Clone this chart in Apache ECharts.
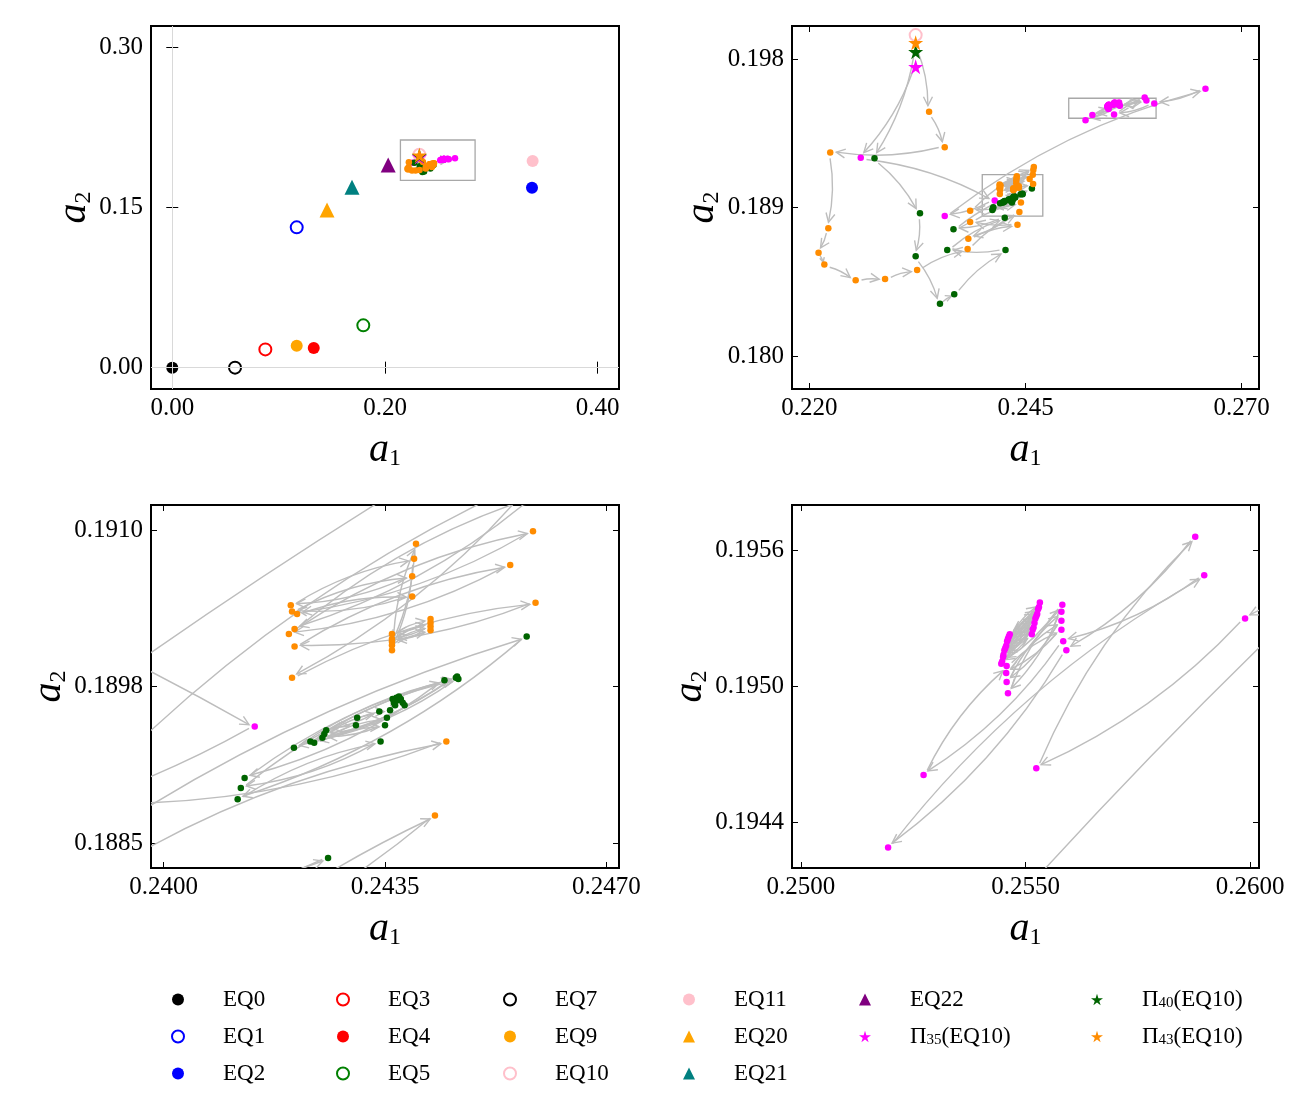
<!DOCTYPE html>
<html><head><meta charset="utf-8">
<script src="https://cdn.jsdelivr.net/npm/echarts@6/dist/echarts.min.js"></script>
<style>html,body{margin:0;padding:0;background:#fff}#c{width:1313px;height:1094px}</style>
</head><body><div id="c"></div>
<script>
// ---------------- DATA ----------------
const eqNames = ['EQ0','EQ1','EQ2','EQ3','EQ4','EQ5','EQ7','EQ9','EQ10','EQ11','EQ20','EQ21','EQ22'];
const eqA1 = [0.0, 0.117, 0.3382, 0.0875, 0.133, 0.1796, 0.059, 0.117, 0.2323, 0.3388, 0.1455, 0.169, 0.203];
const eqA2 = [0.0, 0.1314, 0.1686, 0.0171, 0.0184, 0.0396, 0.0, 0.0206, 0.19945, 0.1935, 0.1476, 0.169, 0.1898];

// Pi_35(EQ10) orbit: first entry is the star, then the iterates
const pi35A1 = [0.2323, 0.22595, 0.24144, 0.23566, 0.26581, 0.25989, 0.25524, 0.25878, 0.25591, 0.25194,
  0.25898, 0.25584, 0.25273, 0.25458, 0.25580, 0.25457, 0.25580, 0.25458, 0.25580, 0.25461, 0.25582,
  0.25446, 0.25514, 0.25448, 0.25516, 0.25450, 0.25518, 0.25451, 0.25520, 0.25453, 0.25522,
  0.25455, 0.25524, 0.25457, 0.25526, 0.25459, 0.25528, 0.25461, 0.25530, 0.25463, 0.25532, 0.25465];
const pi35A2 = [0.19753, 0.19202, 0.18943, 0.18848, 0.19620, 0.19530, 0.19464, 0.19566, 0.19516, 0.19429,
  0.19549, 0.19520, 0.19461, 0.19509, 0.19525, 0.19506, 0.19529, 0.19502, 0.19533, 0.19497, 0.19536,
  0.19510, 0.19523, 0.19511, 0.19525, 0.19513, 0.19526, 0.19514, 0.19528, 0.19516, 0.19530,
  0.19517, 0.19531, 0.19518, 0.19532, 0.19520, 0.19534, 0.19521, 0.19535, 0.19522, 0.19537, 0.19523];

// Pi_40(EQ10)
const pi40A1 = [0.2323, 0.22754, 0.23280, 0.23230, 0.23511, 0.23676, 0.24269, 0.23595, 0.24260, 0.23667,
  0.24574, 0.24117, 0.24343, 0.24122, 0.24444, 0.24128, 0.24464, 0.24206, 0.24462, 0.24232, 0.24466,
  0.24238, 0.24350, 0.24251, 0.24353, 0.24254, 0.24341, 0.24257, 0.24304, 0.24306, 0.24358, 0.24364,
  0.24368, 0.24372, 0.24375, 0.24378, 0.24381, 0.24362, 0.24370, 0.24366];
const pi40A2 = [0.19844, 0.19198, 0.18865, 0.18604, 0.18317, 0.18374, 0.18642, 0.18642, 0.18838, 0.18768,
  0.19015, 0.18885, 0.18931, 0.18894, 0.18980, 0.18902, 0.18983, 0.18926, 0.18982, 0.18931, 0.18981,
  0.18930, 0.18944, 0.18934, 0.18950, 0.18937, 0.18955, 0.18940, 0.18944, 0.18950, 0.18956, 0.18962,
  0.18966, 0.18967, 0.18965, 0.18962, 0.18960, 0.18965, 0.18964, 0.18960];

// Pi_43(EQ10)
const pi43A1 = [0.2323, 0.23385, 0.23566, 0.22242, 0.22220, 0.22107, 0.22174, 0.22536, 0.22876, 0.23247,
  0.23831, 0.24429, 0.23839, 0.24407, 0.23860, 0.24447, 0.23860, 0.24596, 0.24203, 0.24588, 0.24207,
  0.24548, 0.24198, 0.24590, 0.24207, 0.24584, 0.24211, 0.24393, 0.24203, 0.24393, 0.24201, 0.24396,
  0.24361, 0.24399, 0.24361, 0.24422, 0.24361, 0.24422, 0.24361, 0.24422, 0.24361, 0.24422];
const pi43A2 = [0.19899, 0.19481, 0.19265, 0.19234, 0.18774, 0.18626, 0.18554, 0.18459, 0.18467, 0.18521,
  0.18648, 0.18872, 0.18711, 0.18796, 0.18812, 0.18931, 0.18881, 0.19145, 0.18982, 0.19042, 0.19007,
  0.19072, 0.19017, 0.19128, 0.19021, 0.19099, 0.19033, 0.19047, 0.19035, 0.19063, 0.19040, 0.19077,
  0.19004, 0.19089, 0.19008, 0.19020, 0.19011, 0.19023, 0.19013, 0.19026, 0.19017, 0.19029];

const xTickValues = [[0, 0.2, 0.4], [0.22, 0.245, 0.27], [0.24, 0.2435, 0.247], [0.25, 0.255, 0.26]];
const xTickLabels = [['0.00','0.20','0.40'], ['0.220','0.245','0.270'], ['0.2400','0.2435','0.2470'], ['0.2500','0.2550','0.2600']];
const yTickValues = [[0, 0.15, 0.3], [0.18, 0.189, 0.198], [0.1885, 0.18975, 0.191], [0.1944, 0.195, 0.1956]];
const yTickLabels = [['0.00','0.15','0.30'], ['0.180','0.189','0.198'], ['0.1885','0.1898','0.1910'], ['0.1944','0.1950','0.1956']];

// zoom boxes: [x0, y0, x1, y1]
const zoomBoxPanel1 = [[0.2145, 0.1755, 0.2847, 0.2132]];
const zoomBoxPanel2 = [[0.2400, 0.18848, 0.2470, 0.19099], [0.2500, 0.19441, 0.2601, 0.19562]];

// ---------------- STYLE / LAYOUT ----------------
const FONT = 'Liberation Serif';
const STAR = 'path://M50,0 L61,35 L98,35 L68,57 L79,91 L50,70 L21,91 L32,57 L2,35 L39,35 Z';
const eqStyle = {
  EQ0:{symbol:'circle', color:'#000000'}, EQ1:{symbol:'emptyCircle', color:'#0000ff'},
  EQ2:{symbol:'circle', color:'#0000ff'}, EQ3:{symbol:'emptyCircle', color:'#ff0000'},
  EQ4:{symbol:'circle', color:'#ff0000'}, EQ5:{symbol:'emptyCircle', color:'#008000'},
  EQ7:{symbol:'emptyCircle', color:'#000000'}, EQ9:{symbol:'circle', color:'#ffa500'},
  EQ10:{symbol:'emptyCircle', color:'#ffc0cb'}, EQ11:{symbol:'circle', color:'#ffc0cb'},
  EQ20:{symbol:'triangle', color:'#ffa500'}, EQ21:{symbol:'triangle', color:'#008080'},
  EQ22:{symbol:'triangle', color:'#800080'}
};
const trajectories = [
  {name:'Π35(EQ10)', a1:pi35A1, a2:pi35A2, color:'#ff00ff'},
  {name:'Π40(EQ10)', a1:pi40A1, a2:pi40A2, color:'#006400'},
  {name:'Π43(EQ10)', a1:pi43A1, a2:pi43A2, color:'#ff8c00'}
];
const grids = [
  {left:151, top:26, width:468, height:363},
  {left:792, top:26, width:467, height:363},
  {left:151, top:505, width:468, height:363},
  {left:792, top:505, width:467, height:363}
];
const xRange = [[-0.02, 0.42], [0.218, 0.272], [0.2398, 0.2472], [0.2498, 0.2602]];
const yRange = [[-0.02, 0.32], [0.178, 0.200], [0.1883, 0.1912], [0.1942, 0.1958]];
const yNameGap = [54, 66, 74, 50];

function labelFor(vals, labs) {
  return function (v) {
    let best = 0, d = Infinity;
    vals.forEach((t, i) => { const e = Math.abs(t - v); if (e < d) { d = e; best = i; } });
    return labs[best];
  };
}
const tickStyle = {show:true, inside:true, length:6, lineStyle:{color:'#000', width:1}};
const nameRich = {
  i:{fontFamily:FONT, fontStyle:'italic', fontSize:40, lineHeight:42, color:'#000'},
  s:{fontFamily:FONT, fontSize:24, lineHeight:42, verticalAlign:'bottom', color:'#000'}
};

const xAxes = [], yAxes = [];
grids.forEach((g, p) => {
  xAxes.push({
    gridIndex:p, type:'value', position:'bottom', min:xRange[p][0], max:xRange[p][1],
    axisLine:{show:false}, splitLine:{show:false},
    axisTick:Object.assign({customValues:xTickValues[p]}, tickStyle),
    axisLabel:{customValues:xTickValues[p], formatter:labelFor(xTickValues[p], xTickLabels[p]),
      fontFamily:FONT, fontSize:25, color:'#000', margin:7},
    name:'{i|a}{s|1}', nameLocation:'middle', nameGap:40, nameTextStyle:{rich:nameRich}
  });
  xAxes.push({
    gridIndex:p, type:'value', position:'top', min:xRange[p][0], max:xRange[p][1],
    axisLine:{show:false}, splitLine:{show:false}, axisLabel:{show:false},
    axisTick:Object.assign({customValues:xTickValues[p]}, tickStyle)
  });
  yAxes.push({
    gridIndex:p, type:'value', position:'left', min:yRange[p][0], max:yRange[p][1],
    axisLine:{show:false}, splitLine:{show:false},
    axisTick:Object.assign({customValues:yTickValues[p]}, tickStyle),
    axisLabel:{customValues:yTickValues[p], formatter:labelFor(yTickValues[p], yTickLabels[p]),
      fontFamily:FONT, fontSize:25, color:'#000', margin:8},
    name:'{i|a}{s|2}', nameLocation:'middle', nameRotate:90, nameGap:yNameGap[p], nameTextStyle:{rich:nameRich}
  });
  yAxes.push({
    gridIndex:p, type:'value', position:'right', min:yRange[p][0], max:yRange[p][1],
    axisLine:{show:false}, splitLine:{show:false}, axisLabel:{show:false},
    axisTick:Object.assign({customValues:yTickValues[p]}, tickStyle)
  });
});

function arrowRender(params, api) {
  const p1 = api.coord([api.value(0), api.value(1)]);
  const p2 = api.coord([api.value(2), api.value(3)]);
  const dx = p2[0] - p1[0], dy = p2[1] - p1[1];
  const L = Math.hypot(dx, dy);
  if (!(L > 1.5)) return;
  const ux = dx / L, uy = dy / L;
  const s = Math.min(6, L * 0.2);
  const ax = p1[0] + ux * s, ay = p1[1] + uy * s, bx = p2[0] - ux * s, by = p2[1] - uy * s;
  const ddx = bx - ax, ddy = by - ay;
  const rad = -0.1;
  const cx = (ax + bx) / 2 - rad * ddy, cy = (ay + by) / 2 + rad * ddx;
  let tx = bx - cx, ty = by - cy; const tl = Math.hypot(tx, ty) || 1; tx /= tl; ty /= tl;
  const hl = Math.min(9, L * 0.35), hw = hl * 0.5;
  const pts = [[bx - tx * hl - ty * hw, by - ty * hl + tx * hw], [bx, by], [bx - tx * hl + ty * hw, by - ty * hl - tx * hw]];
  const st = {stroke:'#bdbdbd', lineWidth:1.4, fill:'none'};
  return {type:'group', children:[
    {type:'bezierCurve', shape:{x1:ax, y1:ay, x2:bx, y2:by, cpx1:cx, cpy1:cy}, style:st},
    {type:'polyline', shape:{points:pts}, style:st}
  ]};
}

const series = [];
grids.forEach((g, p) => {
  const ax = {xAxisIndex:2 * p, yAxisIndex:2 * p};
  const helper = Object.assign({type:'scatter', name:'_helper' + p, data:[], silent:true, z:1}, ax);
  if (p === 0) {
    helper.markLine = {silent:true, symbol:'none', label:{show:false}, animation:false,
      lineStyle:{color:'#d9d9d9', width:1, type:'solid'}, data:[{xAxis:0}, {yAxis:0}]};
  }
  const boxes = p === 0 ? zoomBoxPanel1 : (p === 1 ? zoomBoxPanel2 : []);
  if (boxes.length) {
    helper.markArea = {silent:true, label:{show:false},
      itemStyle:{color:'rgba(0,0,0,0)', borderColor:'#a8a8a8', borderWidth:1.3},
      data:boxes.map(b => [{coord:[b[0], b[1]]}, {coord:[b[2], b[3]]}])};
  }
  series.push(helper);
  trajectories.forEach(t => {
    const data = [];
    for (let k = 0; k < t.a1.length - 1; k++) data.push([t.a1[k], t.a2[k], t.a1[k + 1], t.a2[k + 1]]);
    series.push(Object.assign({type:'custom', name:t.name + ' path', renderItem:arrowRender, clip:true,
      encode:{x:[0, 2], y:[1, 3]}, data:data, z:2, silent:true}, ax));
  });
  eqNames.forEach((n, i) => {
    const st = eqStyle[n];
    series.push(Object.assign({type:'scatter', name:n, symbol:st.symbol,
      symbolSize:st.symbol === 'triangle' ? 15 : 12,
      itemStyle:{color:st.color, opacity:1, borderWidth:st.symbol === 'emptyCircle' ? 2 : 0, borderColor:st.color},
      data:[[eqA1[i], eqA2[i]]], z:3, silent:true}, ax));
  });
  trajectories.forEach(t => {
    const data = [];
    for (let k = 1; k < t.a1.length; k++) data.push([t.a1[k], t.a2[k]]);
    series.push(Object.assign({type:'scatter', name:t.name + ' iterates', symbol:'circle', symbolSize:6.5,
      itemStyle:{color:t.color, opacity:1}, data:data, z:4, silent:true}, ax));
  });
  trajectories.forEach(t => {
    series.push(Object.assign({type:'scatter', name:t.name, symbol:STAR, symbolSize:15,
      itemStyle:{color:t.color, opacity:1}, data:[[t.a1[0], t.a2[0]]], z:5, silent:true}, ax));
  });
});

const legendCols = [
  {left:171, names:['EQ0','EQ1','EQ2']},
  {left:336, names:['EQ3','EQ4','EQ5']},
  {left:503, names:['EQ7','EQ9','EQ10']},
  {left:683, names:['EQ11','EQ20','EQ21']},
  {left:859, names:['EQ22','Π35(EQ10)']},
  {left:1091, names:['Π40(EQ10)','Π43(EQ10)']}
];
const legends = legendCols.map(c => ({
  orient:'vertical', left:c.left, top:988, itemWidth:12, itemHeight:12, itemGap:14,
  data:c.names, selectedMode:false, padding:0, symbolKeepAspect:true,
  formatter:function (n) {
    const m = n.match(/^Π(\d+)(.*)$/);
    return m ? '{p|}{n|Π}{s|' + m[1] + '}{n|' + m[2] + '}' : '{p|}{n|' + n + '}';
  },
  textStyle:{fontFamily:FONT, fontSize:23, color:'#000', lineHeight:23,
    rich:{p:{width:34, lineHeight:23},
          n:{fontFamily:FONT, fontSize:23, lineHeight:23, color:'#000'},
          s:{fontFamily:FONT, fontSize:15, lineHeight:23, verticalAlign:'bottom', color:'#000'}}}
}));

const chart = echarts.init(document.getElementById('c'), null, {renderer:'canvas'});
chart.setOption({
  animation:false,
  backgroundColor:'#ffffff',
  grid:grids.map(g => Object.assign({show:true, borderColor:'#000', borderWidth:2, backgroundColor:'#fff', containLabel:false}, g)),
  xAxis:xAxes,
  yAxis:yAxes,
  legend:legends,
  series:series
});
</script></body></html>
